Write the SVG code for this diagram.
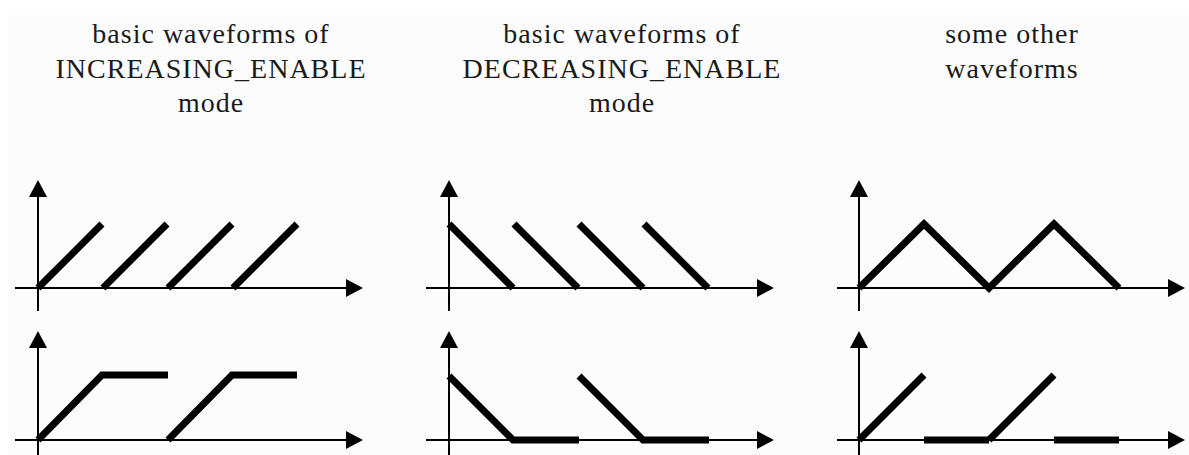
<svg xmlns="http://www.w3.org/2000/svg" width="1189" height="455" viewBox="0 0 1189 455">
<defs>
<marker id="arr" markerUnits="userSpaceOnUse" markerWidth="17" markerHeight="18" refX="0" refY="9" orient="auto" overflow="visible">
<path d="M0,0 L17,9 L0,18 Z" fill="#000"/>
</marker>
<style>
.title{font-family:"Liberation Serif","Times New Roman",serif;font-size:28px;letter-spacing:1px;fill:#1a1a1a;text-anchor:middle}
.axis{stroke:#000;stroke-width:2;fill:none;marker-end:url(#arr)}
.wave{stroke:#000;stroke-width:7;fill:none;stroke-linejoin:miter;stroke-linecap:butt}
</style>
</defs>
<rect x="0" y="0" width="1189" height="455" fill="#ffffff"/>
<rect x="8" y="10" width="1181" height="445" fill="#fbfcfb"/>

<g id="title-increasing">
<text class="title" x="211" y="43">basic waveforms of</text>
<text class="title" x="211" y="78">INCREASING_ENABLE</text>
<text class="title" x="211" y="112">mode</text>
</g>
<g id="title-decreasing">
<text class="title" x="622" y="43">basic waveforms of</text>
<text class="title" x="622" y="78">DECREASING_ENABLE</text>
<text class="title" x="622" y="112">mode</text>
</g>
<g id="title-other">
<text class="title" x="1012" y="43">some other</text>
<text class="title" x="1012" y="78">waveforms</text>
</g>

<g id="axes">
<line class="axis" x1="38" y1="311" x2="38" y2="197"/>
<line class="axis" x1="15" y1="288" x2="346" y2="288"/>
<line class="axis" x1="38" y1="455" x2="38" y2="348"/>
<line class="axis" x1="15" y1="440" x2="346" y2="440"/>

<line class="axis" x1="449" y1="311" x2="449" y2="197"/>
<line class="axis" x1="426" y1="288" x2="757" y2="288"/>
<line class="axis" x1="449" y1="455" x2="449" y2="348"/>
<line class="axis" x1="426" y1="440" x2="757" y2="440"/>

<line class="axis" x1="859" y1="311" x2="859" y2="197"/>
<line class="axis" x1="837" y1="288" x2="1168" y2="288"/>
<line class="axis" x1="859" y1="455" x2="859" y2="348"/>
<line class="axis" x1="837" y1="440" x2="1168" y2="440"/>
</g>

<g id="wave-increasing-top">
<line class="wave" x1="38" y1="288" x2="102" y2="224"/>
<line class="wave" x1="103" y1="288" x2="167" y2="224"/>
<line class="wave" x1="168" y1="288" x2="232" y2="224"/>
<line class="wave" x1="233" y1="288" x2="297" y2="224"/>
</g>
<g id="wave-increasing-bottom">
<polyline class="wave" points="38,440 102,375 168,375"/>
<polyline class="wave" points="168,440 232,375 297,375"/>
</g>

<g id="wave-decreasing-top">
<line class="wave" x1="449" y1="224" x2="513" y2="288"/>
<line class="wave" x1="514" y1="224" x2="578" y2="288"/>
<line class="wave" x1="579" y1="224" x2="643" y2="288"/>
<line class="wave" x1="644" y1="224" x2="708" y2="288"/>
</g>
<g id="wave-decreasing-bottom">
<polyline class="wave" points="449,376 513,440 579,440"/>
<polyline class="wave" points="579,376 643,440 709,440"/>
</g>

<g id="wave-other-top">
<polyline class="wave" points="859,288 924,224 989,288 1054,224 1119,288"/>
</g>
<g id="wave-other-bottom">
<line class="wave" x1="859" y1="440" x2="924" y2="375"/>
<line class="wave" x1="924" y1="440" x2="989" y2="440"/>
<line class="wave" x1="989" y1="440" x2="1054" y2="375"/>
<line class="wave" x1="1054" y1="440" x2="1119" y2="440"/>
</g>
</svg>
